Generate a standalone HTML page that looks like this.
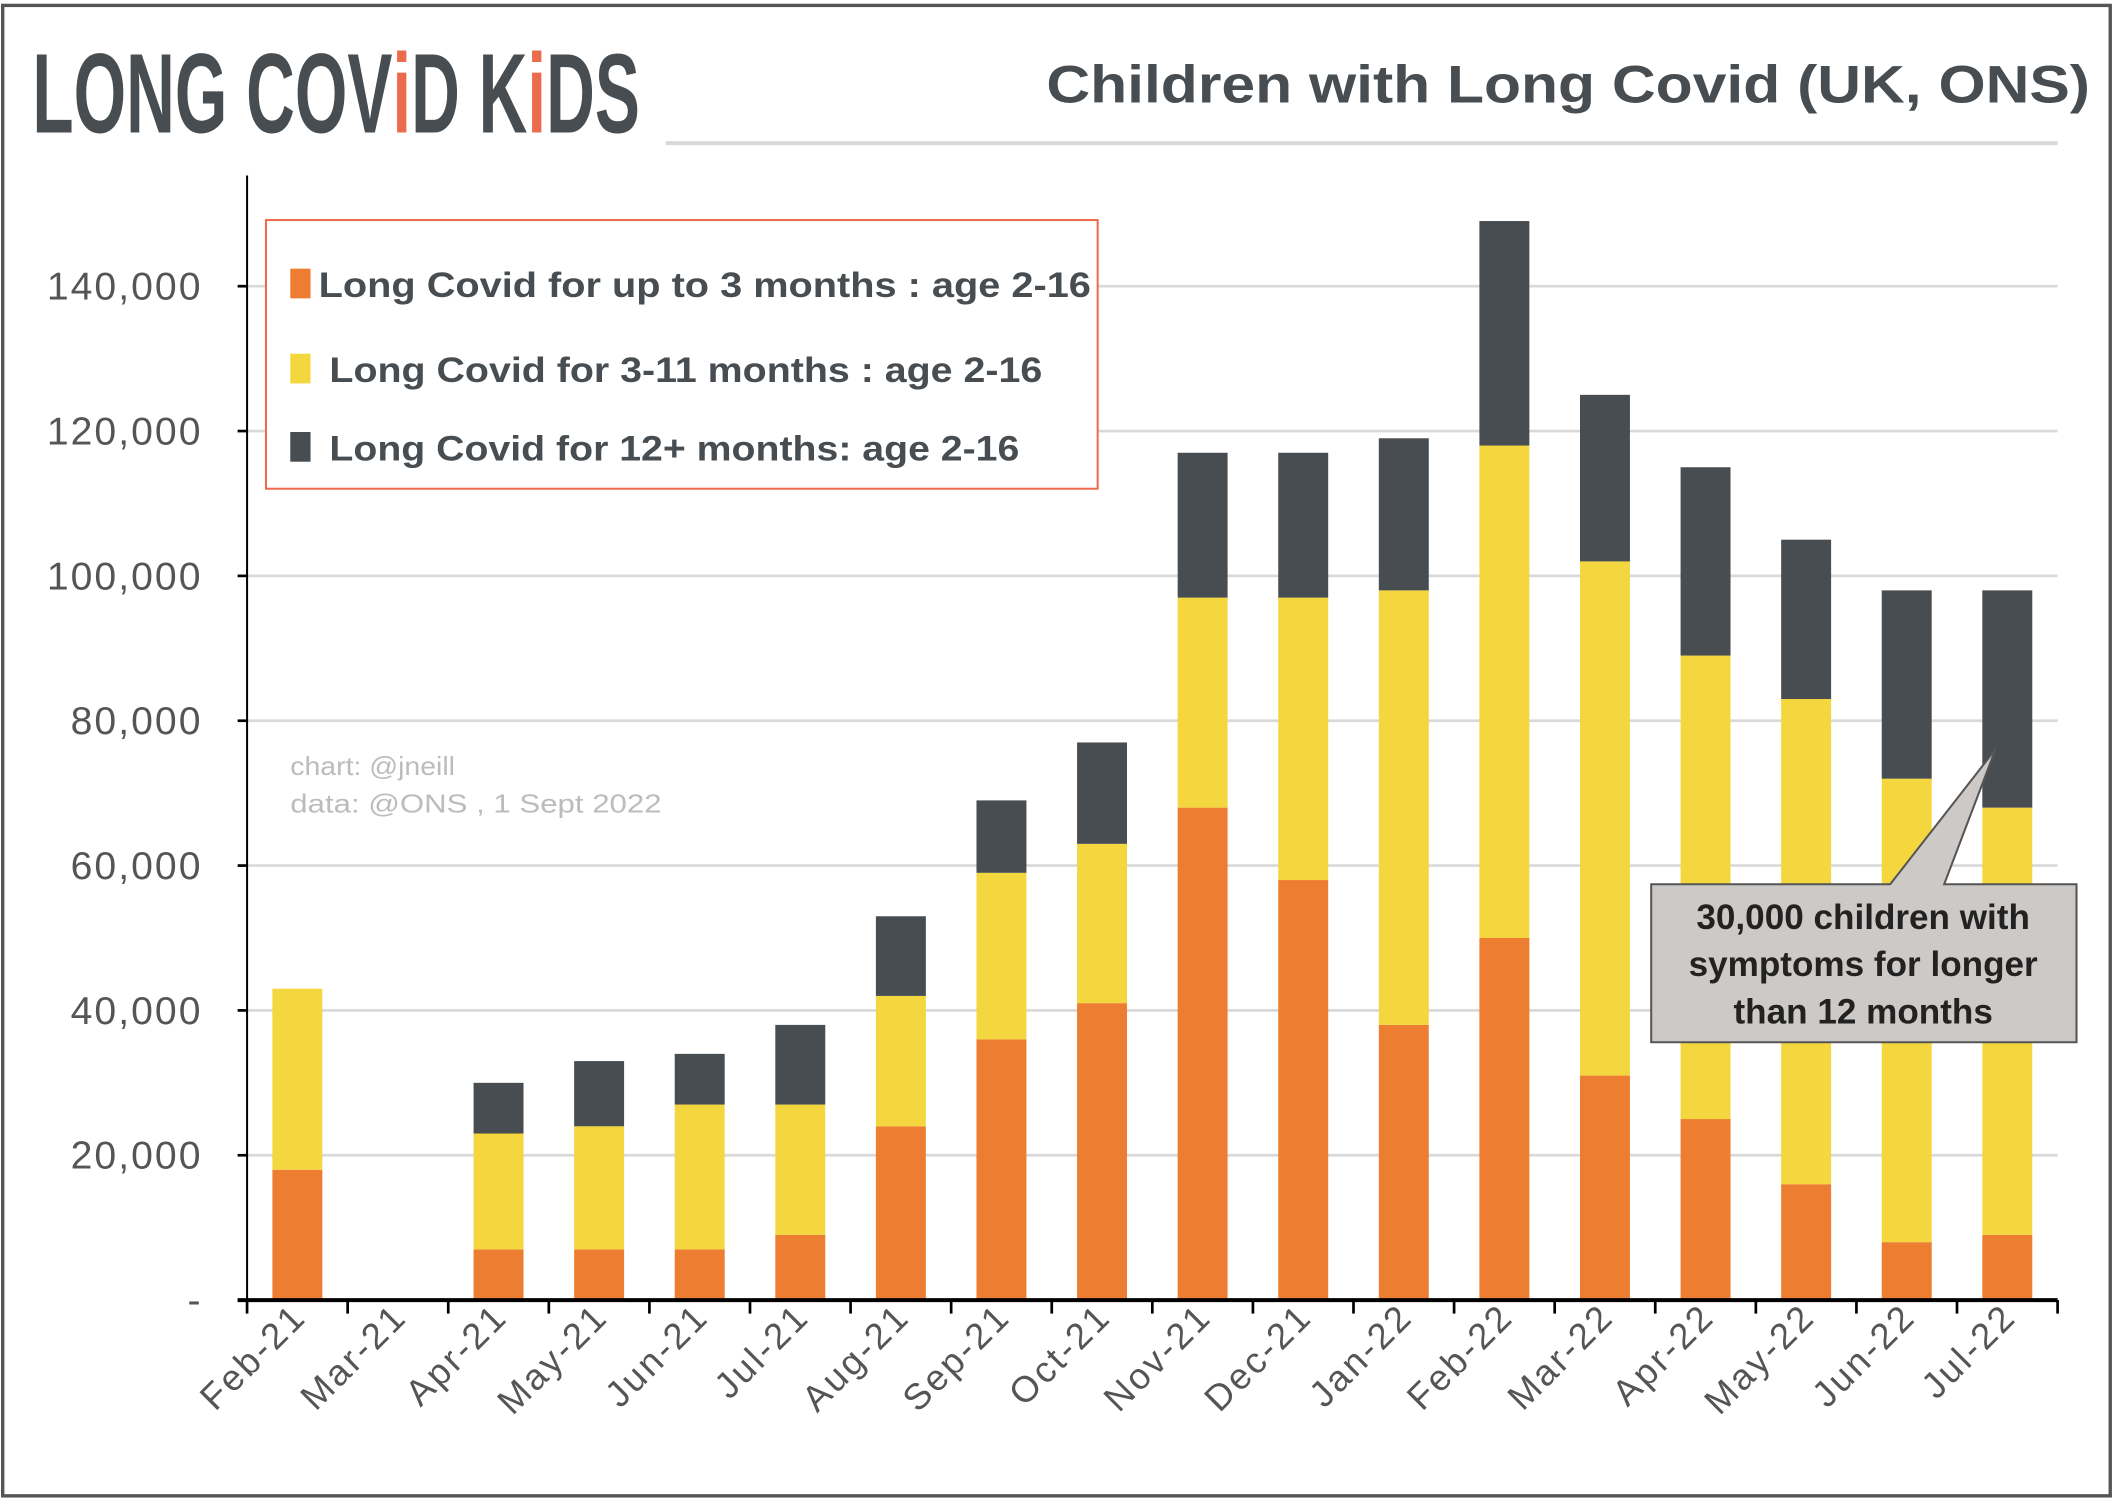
<!DOCTYPE html>
<html><head><meta charset="utf-8"><style>
html,body{margin:0;padding:0;background:#fff;}
svg{display:block;font-family:"Liberation Sans",sans-serif;}
</style></head><body>
<svg id="chart" width="2117" height="1503" viewBox="0 0 1568 1113.3" preserveAspectRatio="none" xmlns="http://www.w3.org/2000/svg">
<rect x="2" y="4" width="1561" height="1104" fill="#fff" stroke="#555" stroke-width="2.5"/>
<g>
<text x="24" y="98" font-family="'Liberation Sans Narrow','Liberation Sans',sans-serif" font-weight="bold" font-size="84" fill="#474d50" textLength="450" lengthAdjust="spacingAndGlyphs">LONG COV<tspan fill="#ec6b4d">i</tspan>D K<tspan fill="#ec6b4d">i</tspan>DS</text>
</g>
<text x="775" y="76" font-weight="bold" font-size="39" fill="#474d50" textLength="773" lengthAdjust="spacingAndGlyphs">Children with Long Covid (UK, ONS)</text>
<line x1="493" y1="106" x2="1524" y2="106" stroke="#d9d9d9" stroke-width="3"/>
<g id="grid"></g>
<g id="bars"></g>
<g id="axes"></g>
<text x="215" y="574" font-size="19" fill="#bcbcbc" textLength="122" lengthAdjust="spacingAndGlyphs">chart: @jneill</text>
<text x="215" y="602" font-size="19" fill="#bcbcbc" textLength="275" lengthAdjust="spacingAndGlyphs">data: @ONS , 1 Sept 2022</text>
<g>
<rect x="197" y="163" width="616" height="199" fill="#fff" stroke="#ec6b4d" stroke-width="1.5"/>
<rect x="215" y="199" width="15" height="22" fill="#ed7d31"/>
<text x="236" y="220" font-weight="bold" font-size="26" fill="#474d50" textLength="572" lengthAdjust="spacingAndGlyphs">Long Covid for up to 3 months : age 2-16</text>
<rect x="215" y="262" width="15" height="22" fill="#f4d73e"/>
<text x="244" y="283" font-weight="bold" font-size="26" fill="#474d50" textLength="528" lengthAdjust="spacingAndGlyphs">Long Covid for 3-11 months : age 2-16</text>
<rect x="215" y="320" width="15" height="22" fill="#474d50"/>
<text x="244" y="341" font-weight="bold" font-size="26" fill="#474d50" textLength="511" lengthAdjust="spacingAndGlyphs">Long Covid for 12+ months: age 2-16</text>
</g>
<g>
<path d="M1223,655 L1400,655 L1478,555 L1440,655 L1538,655 L1538,772 L1223,772 Z" fill="#cdc9c6" stroke="#555" stroke-width="1.5"/>
<text x="1380" y="688" text-anchor="middle" font-weight="bold" font-size="26" fill="#222">30,000 children with</text>
<text x="1380" y="723" text-anchor="middle" font-weight="bold" font-size="26" fill="#222">symptoms for longer</text>
<text x="1380" y="758" text-anchor="middle" font-weight="bold" font-size="26" fill="#222">than 12 months</text>
</g>
</svg>
<script>
const categories = ["Feb-21","Mar-21","Apr-21","May-21","Jun-21","Jul-21","Aug-21","Sep-21","Oct-21","Nov-21","Dec-21","Jan-22","Feb-22","Mar-22","Apr-22","May-22","Jun-22","Jul-22"];
const upTo3 = [18000,0,7000,7000,7000,9000,24000,36000,41000,68000,58000,38000,50000,31000,25000,16000,8000,9000];
const m3to11 = [25000,0,16000,17000,20000,18000,18000,23000,22000,29000,39000,60000,68000,71000,64000,67000,64000,59000];
const m12plus = [0,0,7000,9000,7000,11000,11000,10000,14000,20000,20000,21000,31000,23000,26000,22000,26000,30000];
const yTicks = [0,20000,40000,60000,80000,100000,120000,140000];
const yTickLabels = ["-","20,000","40,000","60,000","80,000","100,000","120,000","140,000"];

const NS="http://www.w3.org/2000/svg";
const x0=183,x1=1524,yBase=963,pxPer=(963-212)/140000;
const step=(x1-x0)/categories.length, bw=37;
const y=v=>yBase-v*pxPer;
const cx=i=>x0+step*(i+0.5);
function mk(tag,attrs,parent){const e=document.createElementNS(NS,tag);for(const k in attrs)e.setAttribute(k,attrs[k]);parent.appendChild(e);return e;}
const grid=document.getElementById('grid'),bars=document.getElementById('bars'),axes=document.getElementById('axes');
yTicks.forEach((t,i)=>{
  if(t>0){const g=mk('line',{x1:x0,x2:x1,y1:y(t),y2:y(t),stroke:'#d9d9d9','stroke-width':2},grid);
  
  }
  const tk=mk('line',{x1:x0-7,x2:x0,y1:y(t),y2:y(t),stroke:'#000','stroke-width':2},axes);
  
  
  const lb=mk('text',{x:150,y:y(t)+10,'text-anchor':'end','font-size':29,fill:'#555','letter-spacing':'1.5'},axes);
  lb.textContent=yTickLabels[i];
  
  
});
const series=[[upTo3,'#ed7d31','up-to-3'],[m3to11,'#f4d73e','3-11'],[m12plus,'#474d50','12-plus']];
categories.forEach((c,i)=>{
  let acc=0;
  series.forEach(([arr,col,nm])=>{
    const v=arr[i]; if(v<=0)return;
    const r=mk('rect',{x:cx(i)-bw/2,y:y(acc+v),width:bw,height:v*pxPer,fill:col},bars);
    
    
    acc+=v;
  });
  const lb=mk('text',{transform:`translate(${cx(i)+8},${yBase+14}) rotate(-45)`,'text-anchor':'end','font-size':27,fill:'#555','letter-spacing':'2'},axes);
  lb.textContent=c;
  
  
});
for(let i=0;i<=categories.length;i++){
  const t=mk('line',{x1:x0+step*i,x2:x0+step*i,y1:yBase,y2:yBase+10,stroke:'#000','stroke-width':2},axes);
  
  
}
const ya=mk('line',{x1:x0,x2:x0,y1:130,y2:yBase,stroke:'#000','stroke-width':1.5},axes);


const xa=mk('line',{x1:x0-7,x2:x1,y1:yBase,y2:yBase,stroke:'#000','stroke-width':3},axes);


</script>
</body></html>
